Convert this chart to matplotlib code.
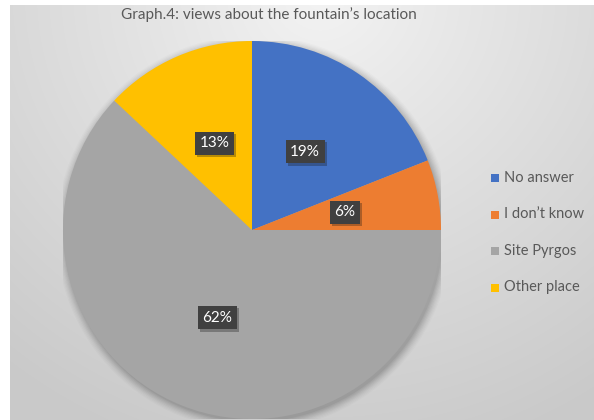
import numpy as np
import matplotlib
matplotlib.use("Agg")
import matplotlib.pyplot as plt
from matplotlib.patches import Circle
import matplotlib.patheffects as pe

plt.rcParams['font.family'] = ['Lato', 'DejaVu Sans']

categories = ["No answer", "I don\u2019t know", "Site Pyrgos", "Other place"]
shares = [19, 6, 62, 13]
colors = ["#4472C4", "#ED7D31", "#A5A5A5", "#FFC000"]
title = "Graph.4: views about the fountain\u2019s location"

W, H = 594, 420
fig = plt.figure(figsize=(W / 100, H / 100), dpi=100)
fig.patch.set_facecolor("white")

# radial grey gradient behind the chart
bg = fig.add_axes([10 / W, 0, (W - 10) / W, (H - 5) / H])
bg.set_axis_off()
ny, nx = 415, 584
yy, xx = np.mgrid[0:ny, 0:nx]
d = np.hypot(xx - 310, (yy + 10) * 1.05) / 500.0
d = np.clip(d, 0, 1)
light, dark = 0.955, 0.79
g = light - (light - dark) * d ** 0.95
bg.imshow(np.dstack([g, g, g]), aspect="auto", extent=[0, nx, ny, 0])
bg.set_xlim(0, nx)
bg.set_ylim(ny, 0)

# pie axes: centre at (252, 230) px, radius 189 px
cx, cy, r = 252, 230, 189
ax = fig.add_axes([(cx - r) / W, 1 - (cy + r) / H, 2 * r / W, 2 * r / H])
ax.set_axis_off()

# soft shadow beneath the pie
for k, a in zip(np.linspace(1.045, 1.0, 8), np.linspace(0.015, 0.05, 8)):
    ax.add_patch(Circle((0.01, -0.015), k, color="black", alpha=a, lw=0, zorder=0))

wedges, texts, autotexts = ax.pie(
    shares, colors=colors, startangle=90, counterclock=False,
    radius=1, autopct=lambda p: f"{p:.0f}%", pctdistance=0.5,
    wedgeprops=dict(linewidth=0), textprops=dict(color="white", fontsize=11),
)
for w in wedges:
    w.set_zorder(2)
for t in autotexts:
    t.set_zorder(5)
    t.set_bbox(dict(boxstyle="square,pad=0.3", facecolor="#404040", edgecolor="none"))
    t.get_bbox_patch().set_path_effects(
        [pe.SimplePatchShadow(offset=(1.5, -1.5), alpha=0.3), pe.Normal()])
ax.set_xlim(-1, 1)
ax.set_ylim(-1, 1)

fig.text(269 / W, 1 - 15 / H, title, ha="center", va="center",
         fontsize=11, color="#595959")

# legend
ly0, dy = 178, 36.5
for i, (lab, c) in enumerate(zip(categories, colors)):
    y = ly0 + i * dy
    fig.patches.append(plt.Rectangle((491 / W, 1 - (y + 4) / H), 8 / W, 8 / H,
                                     transform=fig.transFigure, facecolor=c,
                                     edgecolor="none"))
    fig.text(504 / W, 1 - y / H, lab, ha="left", va="center",
             fontsize=10.5, color="#595959")

fig.savefig("out.png", dpi=100)
